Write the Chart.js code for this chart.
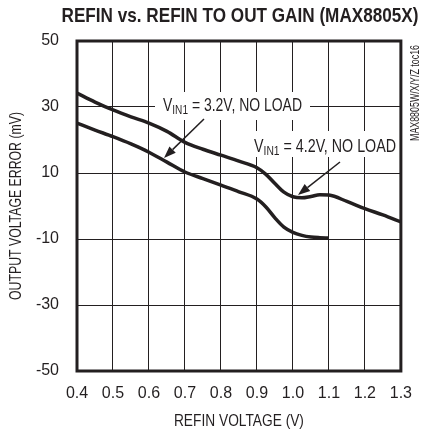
<!DOCTYPE html>
<html><head><meta charset="utf-8">
<script src="https://cdn.jsdelivr.net/npm/chart.js@4/dist/chart.umd.min.js"></script>
<style>html,body{margin:0;padding:0;background:#fff}#wrap{width:425px;height:435px}</style>
</head><body><div id="wrap"><canvas id="c" width="425" height="435"></canvas></div>
<script>
const FONT = "'Liberation Sans Narrow','Arial Narrow','Liberation Sans',Arial,sans-serif";
const INK = '#231f20';

const titleText = 'REFIN vs. REFIN TO OUT GAIN (MAX8805X)';
const xTitle = 'REFIN VOLTAGE (V)';
const yTitle = 'OUTPUT VOLTAGE ERROR (mV)';
const sideNote = 'MAX8805W/X/Y/Z toc16';

const xTicks = [0.4, 0.5, 0.6, 0.7, 0.8, 0.9, 1.0, 1.1, 1.2, 1.3];
const yTicks = [-50, -30, -10, 10, 30, 50];

// VIN1 = 4.2V, NO LOAD
const refin42 = [0.40,0.45,0.50,0.55,0.60,0.65,0.70,0.75,0.80,0.85,0.90,0.925,0.95,0.975,1.00,1.025,1.05,1.075,1.10,1.15,1.20,1.25,1.30];
const err42   = [34.2,31.5,29.1,27.0,25.1,22.6,19.3,17.2,15.4,13.6,11.6,9.6,6.8,4.2,2.8,2.5,2.9,3.4,3.3,1.4,-0.8,-2.7,-4.8];

// VIN1 = 3.2V, NO LOAD
const refin32 = [0.40,0.45,0.50,0.55,0.60,0.65,0.70,0.75,0.80,0.85,0.90,0.925,0.95,0.975,1.00,1.025,1.05,1.075,1.10];
const err32   = [25.1,23.0,21.0,18.8,16.3,13.3,10.3,8.3,6.3,4.3,2.1,-0.3,-3.6,-6.4,-8.0,-8.9,-9.4,-9.6,-9.7];

const labels = [
  {main: 'V', sub: 'IN1', rest: ' = 3.2V, NO LOAD', x: 163, y: 111, w: 139, box: [155, 92, 310, 120],
   arrow: {from: [204, 119], to: [164, 158]}},
  {main: 'V', sub: 'IN1', rest: ' = 4.2V, NO LOAD', x: 254, y: 152, w: 142, box: [248, 131, 403, 157],
   arrow: {from: [340, 162], to: [298, 195]}}
];

function pts(xs, ys) { return xs.map((x, i) => ({x: x, y: ys[i]})); }

function drawArrow(ctx, a) {
  const [x1, y1] = a.from, [x2, y2] = a.to;
  const ang = Math.atan2(y2 - y1, x2 - x1);
  const L = 12, W = 4.5;
  const bx = x2 - L * Math.cos(ang), by = y2 - L * Math.sin(ang);
  ctx.save();
  ctx.strokeStyle = INK; ctx.fillStyle = INK; ctx.lineWidth = 1.5;
  ctx.beginPath(); ctx.moveTo(x1, y1); ctx.lineTo(bx, by); ctx.stroke();
  ctx.beginPath();
  ctx.moveTo(x2, y2);
  ctx.lineTo(bx + W * Math.sin(ang), by - W * Math.cos(ang));
  ctx.lineTo(bx - W * Math.sin(ang), by + W * Math.cos(ang));
  ctx.closePath(); ctx.fill();
  ctx.restore();
}

// draw text squeezed horizontally to a target width (condensed look)
function squeezed(ctx, text, font, x, y, width, align) {
  ctx.save();
  ctx.font = font;
  const nat = ctx.measureText(text).width;
  const s = Math.min(1, width / nat);
  ctx.translate(x, y);
  ctx.scale(s, 1);
  ctx.textAlign = align || 'center';
  ctx.fillText(text, 0, 0);
  ctx.restore();
}

const deco = {
  id: 'deco',
  beforeDatasetsDraw(chart) {
    const ctx = chart.ctx;
    ctx.save();
    labels.forEach(l => {
      const [bx1, by1, bx2, by2] = l.box;
      ctx.fillStyle = '#fff';
      ctx.fillRect(bx1, by1, bx2 - bx1, by2 - by1);
      ctx.fillStyle = INK;
      ctx.textBaseline = 'alphabetic';
      ctx.textAlign = 'left';
      const big = '18px ' + FONT, small = '13px ' + FONT;
      ctx.font = big; const w1 = ctx.measureText(l.main).width;
      ctx.font = small; const w2 = ctx.measureText(l.sub).width;
      ctx.font = big; const w3 = ctx.measureText(l.rest).width;
      const s = l.w / (w1 + w2 + w3);
      ctx.save();
      ctx.translate(l.x, l.y);
      ctx.scale(s, 1);
      ctx.font = big; ctx.fillText(l.main, 0, 0);
      ctx.font = small; ctx.fillText(l.sub, w1, 3);
      ctx.font = big; ctx.fillText(l.rest, w1 + w2, 0);
      ctx.restore();
    });
    ctx.restore();
  },
  afterDraw(chart) {
    const ctx = chart.ctx, a = chart.chartArea;
    ctx.save();
    ctx.strokeStyle = INK; ctx.lineWidth = 3;
    ctx.strokeRect(a.left, a.top, a.right - a.left, a.bottom - a.top);
    labels.forEach(l => drawArrow(ctx, l.arrow));
    ctx.fillStyle = INK;
    ctx.textBaseline = 'alphabetic';
    squeezed(ctx, titleText, 'bold 21px ' + FONT, 240, 22, 357, 'center');
    squeezed(ctx, xTitle, '17px ' + FONT, (a.left + a.right) / 2, 426, 130, 'center');
    ctx.save();
    ctx.translate(21, (a.top + a.bottom) / 2);
    ctx.rotate(-Math.PI / 2);
    squeezed(ctx, yTitle, '17px ' + FONT, 0, 0, 188, 'center');
    ctx.restore();
    ctx.save();
    ctx.translate(415, 93);
    ctx.rotate(-Math.PI / 2);
    ctx.textBaseline = 'middle';
    squeezed(ctx, sideNote, '13px ' + FONT, 0, 0, 96, 'center');
    ctx.restore();
    ctx.restore();
  }
};

new Chart(document.getElementById('c'), {
  type: 'line',
  data: {
    datasets: [
      {label: 'VIN1 = 4.2V', data: pts(refin42, err42), borderColor: INK, borderWidth: 3.5,
       pointRadius: 0, cubicInterpolationMode: 'monotone', fill: false},
      {label: 'VIN1 = 3.2V', data: pts(refin32, err32), borderColor: INK, borderWidth: 3.5,
       pointRadius: 0, cubicInterpolationMode: 'monotone', fill: false}
    ]
  },
  options: {
    responsive: false,
    devicePixelRatio: 1,
    animation: false,
    layout: {padding: {top: 41, right: 19, left: 0, bottom: 0}},
    plugins: {legend: {display: false}, title: {display: false}, tooltip: {enabled: false}},
    scales: {
      x: {
        type: 'linear', min: 0.4, max: 1.3,
        afterBuildTicks: s => { s.ticks = xTicks.map(v => ({value: v})); },
        afterFit: s => { s.height = 64; },
        ticks: {callback: v => Number(v).toFixed(1), font: {family: FONT, size: 16}, color: INK, padding: 13, maxRotation: 0},
        grid: {color: INK, lineWidth: 1, drawTicks: false},
        border: {display: false},
        title: {display: false, text: xTitle}
      },
      y: {
        min: -50, max: 50,
        afterBuildTicks: s => { s.ticks = yTicks.map(v => ({value: v})); },
        afterFit: s => { s.width = 77; },
        ticks: {font: {family: FONT, size: 16}, color: INK, padding: 18},
        grid: {color: INK, lineWidth: 1, drawTicks: false},
        border: {display: false},
        title: {display: false, text: yTitle}
      }
    }
  },
  plugins: [deco]
});
</script>
</body></html>
